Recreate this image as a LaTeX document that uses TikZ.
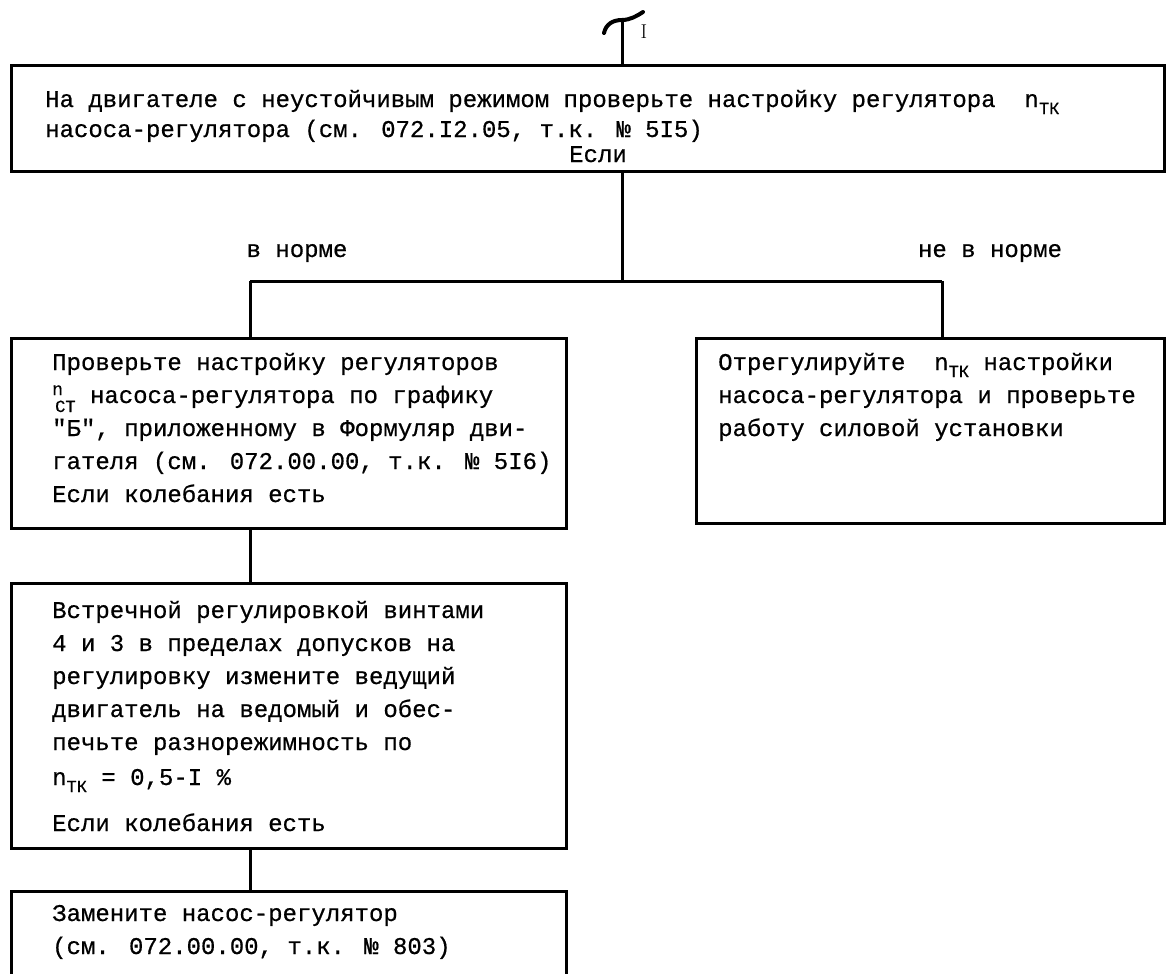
\documentclass[tikz,border=0pt]{standalone}
\usepackage{fontspec}
\newfontfamily\tw[FakeBold=0.6]{Liberation Mono}
\newcommand{\nsub}[1]{n\raisebox{-7pt}{\fontsize{17}{17}\selectfont #1}}
\newcommand{\nst}{\makebox[0pt][l]{\raisebox{8pt}{\fontsize{18}{18}\selectfont n}}\kern3pt\raisebox{-9pt}{\fontsize{17}{17}\selectfont СТ}}
\begin{document}
\begin{tikzpicture}[x=1pt,y=-1pt,
  box/.style={draw, line width=3pt, rectangle, inner sep=0pt, anchor=north west},
  txt/.style={font=\tw\fontsize{24}{33}\selectfont, inner sep=0pt, anchor=base west},
  lbl/.style={font=\tw\fontsize{24}{33}\selectfont, inner sep=0pt},
  conn/.style={line width=3pt}]
\useasboundingbox (0,0) rectangle (1175,974);
% boxes
\node[box, minimum width=1153pt, minimum height=106pt] (top) at (10,64) {};
\node[box, minimum width=555pt, minimum height=190pt] (a) at (10,337) {};
\node[box, minimum width=468pt, minimum height=185pt] (r) at (695,337) {};
\node[box, minimum width=555pt, minimum height=265pt] (b) at (10,582) {};
\node[box, minimum width=555pt, minimum height=110pt] (c) at (10,890) {};
% texts
\node[txt] (ttop) at (45,107) {\parbox[t]{1100pt}{\raggedright
На двигателе с неустойчивым режимом проверьте настройку регулятора~~\nsub{ТК}\\[-3pt]
насоса-регулятора (см. 072.I2.05, т.к. № 5I5)}};
\node[lbl, anchor=base] (tif) at (598,162) {Если};
\node[txt] (ta) at (52,370) {\parbox[t]{510pt}{\raggedright
Проверьте настройку регуляторов\\
\nst{} насоса-регулятора по графику\\
"Б", приложенному в Формуляр дви-\\
гателя (см. 072.00.00, т.к. № 5I6)\\
Если колебания есть}};
\node[txt] (tr) at (718,370) {\parbox[t]{440pt}{\raggedright
Отрегулируйте~~\nsub{ТК} настройки\\
насоса-регулятора и проверьте\\
работу силовой установки}};
\node[txt] (tb) at (52,618) {\parbox[t]{510pt}{\raggedright
Встречной регулировкой винтами\\
4 и 3 в пределах допусков на\\
регулировку измените ведущий\\
двигатель на ведомый и обес-\\
печьте разнорежимность по\\[2pt]
\nsub{ТК} = 0,5-I \%\\[13pt]
Если колебания есть}};
\node[txt] (tc) at (52,921) {\parbox[t]{510pt}{\raggedright
Замените насос-регулятор\\
(см. 072.00.00, т.к. № 803)}};
\node[lbl] (lok) at (297,253) {в норме};
\node[lbl] (lnok) at (990,253) {не в норме};
% T symbol
\coordinate (tT) at (622,20);
\draw[line width=4pt, line cap=round] (604,33) .. controls (606,24) and (613,20) .. (tT) .. controls (630,20) and (637,16) .. (643,12);
\draw[conn] (tT) -- (tT |- top.north);
\node[inner sep=0pt, font=\fontsize{20}{20}\selectfont] (tI) at (644,32) {I};
% connectors
\coordinate (j) at (622,281);
\coordinate (jl) at (250,281);
\coordinate (jr) at (942,281);
\draw[conn] (top.south -| j) -- (j);
\draw[conn] (jl) -- (jr);
\draw[conn] (jl) -- (jl |- a.north);
\draw[conn] (jr) -- (jr |- r.north);
\draw[conn] (a.south -| jl) -- (b.north -| jl);
\draw[conn] (b.south -| jl) -- (c.north -| jl);
\end{tikzpicture}
\end{document}
